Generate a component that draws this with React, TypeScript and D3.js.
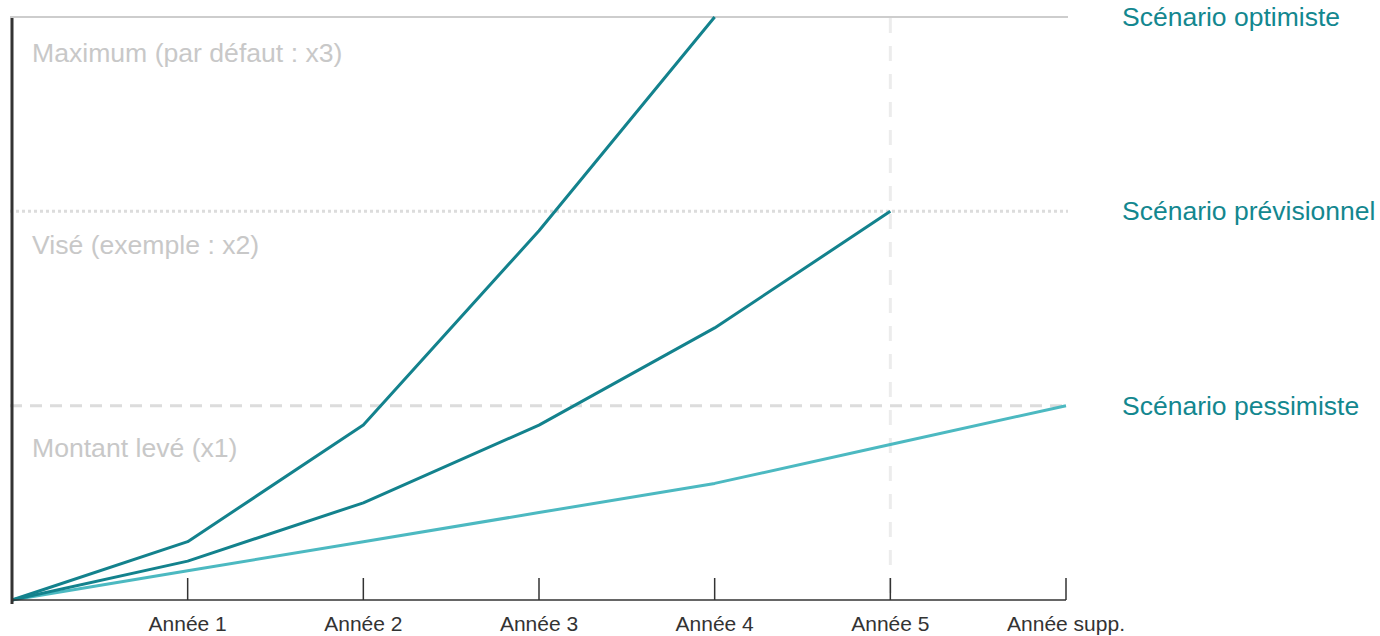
import React from 'react'
import * as d3 from 'd3'

const width = 1380
const height = 636

const years = ['', 'Année 1', 'Année 2', 'Année 3', 'Année 4', 'Année 5', 'Année supp.']

const optimiste = [0, 0.3, 0.9, 1.9, 3.0]
const previsionnel = [0, 0.2, 0.5, 0.9, 1.4, 2.0]
const pessimiste = [0, 0.15, 0.3, 0.45, 0.6, 0.8, 1.0]

const levels = [
  { value: 3, label: 'Maximum (par défaut : x3)', offset: 45 },
  { value: 2, label: 'Visé (exemple : x2)', offset: 43 },
  { value: 1, label: 'Montant levé (x1)', offset: 51 },
]

const scenarios = [
  { name: 'Scénario optimiste', values: optimiste, color: '#13828d' },
  { name: 'Scénario prévisionnel', values: previsionnel, color: '#13828d' },
  { name: 'Scénario pessimiste', values: pessimiste, color: '#4cb9c1' },
]
const labelValues = [3, 2, 1]

const font = '"Liberation Sans", Arial, sans-serif'

export default function App() {
  const x = d3.scaleLinear().domain([0, years.length - 1]).range([12, 1066])
  const y = d3.scaleLinear().domain([0, 3]).range([600, 17])

  const line = d3
    .line<number>()
    .x((_, i) => x(i))
    .y((d) => y(d))

  const levelStyle: Record<number, { stroke: string; dash?: string; w: number }> = {
    3: { stroke: '#bdbdbd', w: 1.5 },
    2: { stroke: '#dcdcdc', dash: '3,3', w: 3 },
    1: { stroke: '#dcdcdc', dash: '12,8', w: 3 },
  }

  return (
    <svg
      width={width}
      height={height}
      style={{ position: 'absolute', left: 0, top: 0, fontFamily: font }}
    >
      {/* horizontal reference lines */}
      {levels.map((l) => (
        <g key={l.value}>
          <line
            x1={10}
            x2={1068}
            y1={y(l.value)}
            y2={y(l.value)}
            stroke={levelStyle[l.value].stroke}
            strokeWidth={levelStyle[l.value].w}
            strokeDasharray={levelStyle[l.value].dash}
          />
          <text x={32} y={y(l.value) + l.offset} fontSize={26.6} fill="#c8c8c8">
            {l.label}
          </text>
        </g>
      ))}

      {/* vertical year 5 marker */}
      <line
        x1={x(5)}
        x2={x(5)}
        y1={y(3) + 1}
        y2={y(0)}
        stroke="#ececec"
        strokeWidth={3}
        strokeDasharray="15,13"
      />

      {/* scenario lines */}
      {scenarios
        .slice()
        .reverse()
        .map((s) => (
          <path
            key={s.name}
            d={line(s.values) || ''}
            fill="none"
            stroke={s.color}
            strokeWidth={3}
            strokeLinejoin="round"
          />
        ))}

      {/* axes */}
      <line x1={x(0)} x2={x(0)} y1={18} y2={604} stroke="#333" strokeWidth={3} />
      <line x1={x(0)} x2={x(6)} y1={y(0)} y2={y(0)} stroke="#333" strokeWidth={1.5} />
      {years.map((t, i) => (
        <g key={i}>
          {i > 0 && (
            <line x1={x(i)} x2={x(i)} y1={578} y2={y(0)} stroke="#333" strokeWidth={1.5} />
          )}
          <text x={x(i)} y={631} textAnchor="middle" fontSize={21} fill="#333">
            {t}
          </text>
        </g>
      ))}

      {/* scenario labels */}
      {scenarios.map((s, i) => (
        <text
          key={s.name}
          x={1122}
          y={y(labelValues[i]) + 9}
          fontSize={26.5}
          fill="#13878f"
        >
          {s.name}
        </text>
      ))}
    </svg>
  )
}
